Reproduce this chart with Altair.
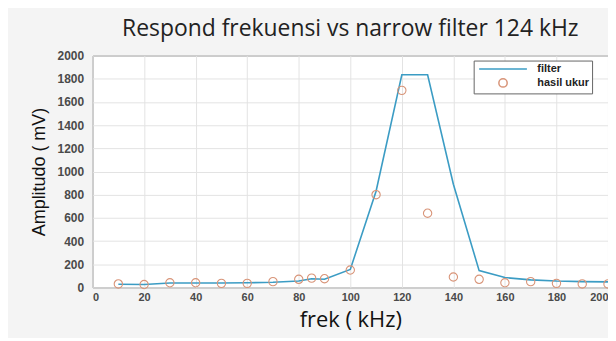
import altair as alt
import pandas as pd

freq = [10, 20, 30, 40, 50, 60, 70, 80, 85, 90, 100, 110, 120, 130, 140, 150, 160, 170, 180, 190, 200]
filter_mv = [28, 25, 38, 38, 38, 40, 45, 55, 75, 70, 155, 830, 1835, 1835, 890, 145, 85, 65, 55, 50, 48]
hasil_mv = [30, 25, 40, 40, 35, 35, 50, 70, 80, 75, 150, 800, 1700, 640, 90, 70, 40, 50, 35, 30, 30]

series_names = ["filter", "hasil ukur"]
x_ticks = list(range(0, 201, 20))
y_ticks = list(range(0, 2001, 200))

df = pd.concat([
    pd.DataFrame({"frek": freq, "amp": filter_mv, "series": series_names[0]}),
    pd.DataFrame({"frek": freq, "amp": hasil_mv, "series": series_names[1]}),
])

blue = "#3b9cc4"
orange = "#d89478"

x_enc = alt.X("frek:Q", scale=alt.Scale(domain=[0, 200], nice=False),
              axis=alt.Axis(values=x_ticks, title="frek ( kHz)"))
y_enc = alt.Y("amp:Q", scale=alt.Scale(domain=[0, 2000], nice=False),
              axis=alt.Axis(values=y_ticks, format="d", title="Amplitudo ( mV)"))

color_scale = alt.Scale(domain=series_names, range=[blue, orange])

line = alt.Chart(df).transform_filter(alt.datum.series == series_names[0]).mark_line(
    strokeWidth=1.6, color=blue
).encode(
    x=x_enc, y=y_enc,
)

points = alt.Chart(df).transform_filter(alt.datum.series == series_names[1]).mark_point(
    filled=False, strokeWidth=1.1, opacity=1
).encode(
    x=x_enc, y=y_enc,
    color=alt.Color("series:N", scale=color_scale,
                    legend=alt.Legend(title=None, orient="none", legendX=383, legendY=5,
                                      direction="vertical", symbolOffset=21,
                                      labelOffset=29)),
    shape=alt.Shape("series:N", scale=alt.Scale(domain=series_names,
                                                range=["M-6,0L6,0", "circle"])),
    size=alt.Size("series:N", scale=alt.Scale(domain=series_names, range=[64, 70])),
)

chart = alt.layer(line, points).properties(
    width=518, height=233,
    title=alt.TitleParams("Respond frekuensi vs narrow filter 124 kHz", anchor="middle",
                          font="Open Sans", fontSize=23, fontWeight="normal",
                          color="#222222", offset=9),
    autosize=alt.AutoSizeParams(type="none"),
    padding={"left": 85, "top": 47, "right": 0, "bottom": 50},
    background="#f4f4f4",
).configure_view(
    fill="white", stroke="#777777", strokeWidth=1
).configure_axis(
    grid=True, gridColor="#e3e3e3", gridWidth=1,
    domain=False, ticks=False,
    labelFont="Liberation Sans", labelColor="#4a4a4a", labelFontWeight="bold",
    titleFont="Open Sans", titleFontWeight="normal", titleColor="#111111",
).configure_axisX(
    labelPadding=4, labelFontSize=11, titleFontSize=22, titlePadding=7,
).configure_axisY(
    labelPadding=9, labelFontSize=12, titleFont="Liberation Sans", titleFontSize=18,
    titlePadding=9,
).configure_legend(
    labelFont="Liberation Sans", labelFontSize=11, labelFontWeight="bold",
    labelColor="#222222",
    fillColor="white", strokeColor="#666666", padding=3, rowPadding=1,
    symbolStrokeWidth=1.5,
)

chart.save("out.html", embed_options={"renderer": "svg", "actions": False})
